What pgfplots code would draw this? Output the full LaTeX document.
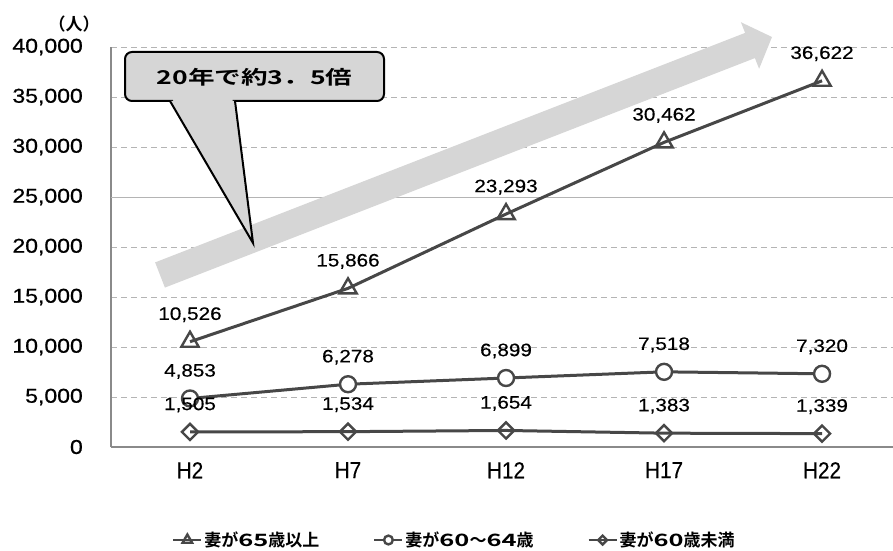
\documentclass[border=0pt]{standalone}
\usepackage{graphicx}
\usepackage{pgfplots}
\pgfplotsset{compat=1.18}
\usepackage{fontspec}
\setmainfont{Liberation Sans}
\newfontfamily\numfont[FakeStretch=1.15,FakeBold=0.4]{Liberation Sans}
\newfontfamily\tickfont[FakeStretch=1.15,FakeBold=0.8]{Liberation Sans}
\newfontfamily\catfont[FakeStretch=0.9,FakeBold=0.4]{Liberation Sans}
\newfontfamily\jp{Noto Sans CJK JP Bold}
\newfontfamily\jpb{Noto Sans CJK JP Bold}
\newfontfamily\jpwide[FakeStretch=1.4]{Noto Sans CJK JP Bold}
% wide half-width digits inside Japanese text
\newcommand{\widedigits}[1]{\scalebox{1.5}[1]{#1}}

\definecolor{linegray}{HTML}{474747}
\definecolor{gridgray}{HTML}{B4B4B4}
\definecolor{axisgray}{HTML}{8A8A8A}
\definecolor{arrowgray}{HTML}{D6D6D6}
\definecolor{boxgray}{HTML}{D6D6D6}

\begin{document}
\begin{tikzpicture}
\path[use as bounding box] (0,0) rectangle (893pt,550pt);
\begin{axis}[
  at={(111pt,103pt)}, anchor=south west,
  scale only axis, width=782pt, height=400pt,
  xmin=-0.5, xmax=4.449, ymin=0, ymax=40000,
  xtick={0,1,2,3,4}, xticklabels={H2,H7,H12,H17,H22},
  ytick={0,5000,...,40000},
  extra y ticks={25000}, extra y tick labels={},
  extra y tick style={grid style={solid, gridgray, line width=0.8pt}},
  axis x line*=bottom, axis y line*=left,
  axis line style={axisgray, line width=2pt, -},
  major tick length=0pt,
  ymajorgrids,
  grid style={gridgray, line width=0.8pt, dash pattern=on 6pt off 4pt},
  scaled y ticks=false,
  /pgf/number format/.cd, 1000 sep={,}, assume math mode=true, /pgfplots/.cd,
  yticklabel style={font=\tickfont\fontsize{20}{20}\selectfont, anchor=east, inner sep=0pt, xshift=-28pt, text=black},
  xticklabel style={font=\catfont\fontsize{23}{23}\selectfont, anchor=north, inner sep=0pt, yshift=-15pt, text=black},
  clip=false,
  nodes near coords,
  nodes near coords style={font=\numfont\fontsize{18}{18}\selectfont, anchor=center, yshift=27pt, inner sep=0pt, text=black},
  legend columns=3,
  legend style={at={(0.4393,-0.2325)}, anchor=center, draw=none, fill=none,
    font=\jpb\fontsize{17}{17}\selectfont, text=black,
    /tikz/every even column/.append style={column sep=52pt}},
  legend image code/.code={
    \draw[mark repeat=2, mark phase=2, line width=2pt,
      /tikz/every mark/.append style={scale=0.55}]
      plot coordinates {(0pt,0pt) (14pt,0pt) (28pt,0pt)};},
]
% wife aged 65 and over
\addplot[linegray, line width=3pt, mark=triangle, mark size=10pt,
  mark options={fill=white, line width=2.4pt, solid}]
  coordinates {(0,10526) (1,15866) (2,23293) (3,30462) (4,36622)};
\addlegendentry{妻が\widedigits{65}歳以上}
% wife aged 60-64
\addplot[linegray, line width=3pt, mark=*, mark size=8pt,
  mark options={fill=white, line width=2.4pt, solid}]
  coordinates {(0,4853) (1,6278) (2,6899) (3,7518) (4,7320)};
\addlegendentry{妻が\widedigits{60}～\widedigits{64}歳}
% wife under 60
\addplot[linegray, line width=3pt, mark=square, mark size=5.7pt,
  mark options={fill=white, line width=2.4pt, solid, rotate=45}]
  coordinates {(0,1505) (1,1534) (2,1654) (3,1383) (4,1339)};
\addlegendentry{妻が\widedigits{60}歳未満}
\end{axis}

% annotations, laid out in a top-down frame
\begin{scope}[shift={(0pt,550pt)}, x=1pt, y=-1pt]
  % growth arrow
  \fill[arrowgray] (155.1,262.4) -- (745.1,32.9) -- (740.9,22.2) -- (772,37)
    -- (759.1,68.8) -- (754.9,58.1) -- (164.9,287.6) -- cycle;
  % callout box
  \draw[rounded corners=7pt, fill=boxgray, line width=2pt] (125,52) rectangle (384,101);
  \draw[fill=boxgray, line width=2pt, line join=miter] (170,101) -- (253,243) -- (235,101);
  \fill[boxgray] (173,98.5) -- (232.5,98.5) -- (232.8,103.5) -- (173.6,103.5) -- cycle;
  \node[font=\jpwide\fontsize{19}{19}\selectfont, inner sep=0pt] at (254.5,77) {20年で約3．5倍};
  % unit label
  \node[font=\jp\fontsize{17}{17}\selectfont, inner sep=0pt] at (74,24) {（人）};
\end{scope}
\end{tikzpicture}
\end{document}
